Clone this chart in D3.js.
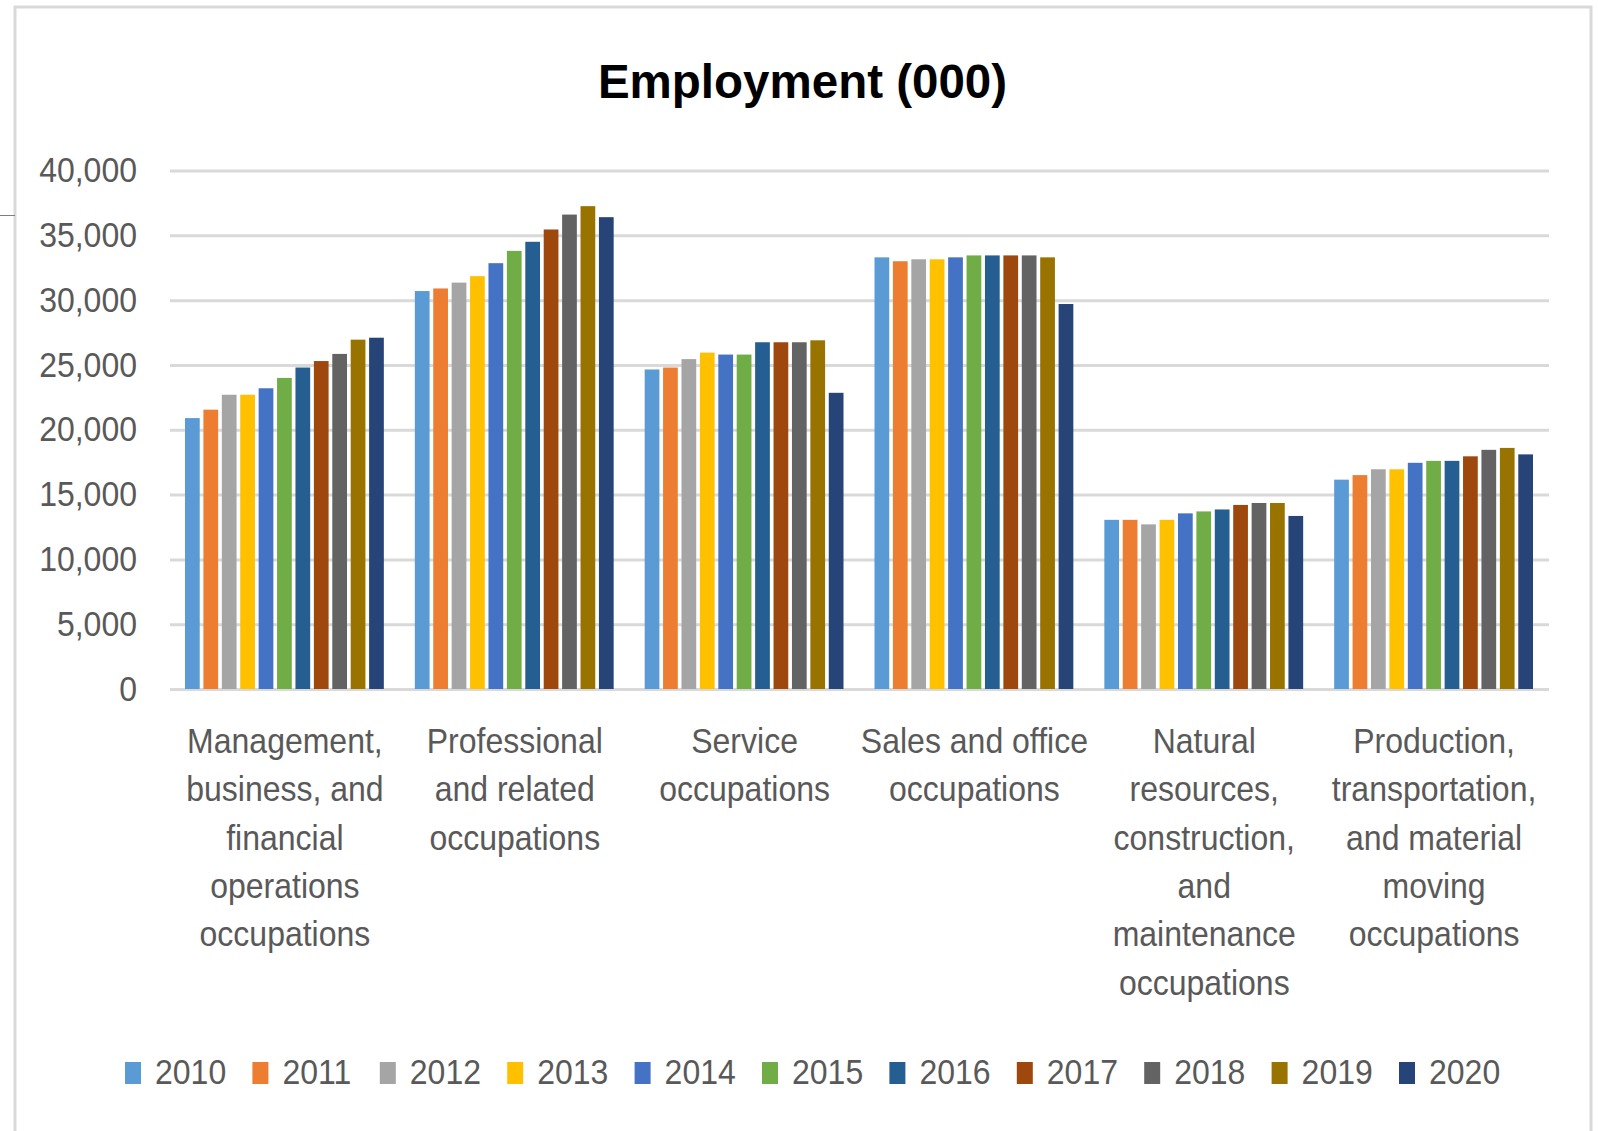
<!DOCTYPE html>
<html lang="en">
    <head>
        <meta charset="UTF-8" />
        <title>Employment (000)</title>
        <style>
            body {
                margin: 0;
                background: #fff;
            }
            text {
                font-family: 'Liberation Sans', Arial, sans-serif;
                fill: #595959;
            }
            .grid line {
                stroke: #d9d9d9;
                stroke-width: 3px;
            }
        </style>
    </head>
    <body>
        <svg width="1598" height="1131"></svg>
        <script src="https://d3js.org/d3.v7.min.js"></script>
        <script>
            const years = ['2010', '2011', '2012', '2013', '2014', '2015', '2016', '2017', '2018', '2019', '2020'];
            const yTicks = [0, 5000, 10000, 15000, 20000, 25000, 30000, 35000, 40000];

            // category labels, one entry per line as they wrap under the axis
            const categoryLines = [
                ['Management,', 'business, and', 'financial', 'operations', 'occupations'],
                ['Professional', 'and related', 'occupations'],
                ['Service', 'occupations'],
                ['Sales and office', 'occupations'],
                ['Natural', 'resources,', 'construction,', 'and', 'maintenance', 'occupations'],
                ['Production,', 'transportation,', 'and material', 'moving', 'occupations'],
            ];
            const categories = categoryLines.map((l) => l.join(' '));

            // values per category, 2010..2020 (thousands)
            const management = [20900, 21550, 22700, 22700, 23200, 24000, 24800, 25300, 25850, 26950, 27100];
            const professional = [30700, 30900, 31350, 31850, 32850, 33800, 34500, 35450, 36600, 37250, 36400];
            const service = [24650, 24800, 25450, 25950, 25800, 25800, 26750, 26750, 26750, 26900, 22850];
            const salesOffice = [33300, 33000, 33150, 33150, 33300, 33450, 33450, 33450, 33450, 33300, 29700];
            const naturalRes = [13050, 13050, 12700, 13050, 13550, 13700, 13850, 14200, 14350, 14350, 13350];
            const production = [16150, 16500, 16950, 16950, 17450, 17600, 17600, 17950, 18450, 18600, 18100];

            const colors = ['#5b9bd5', '#ed7d31', '#a5a5a5', '#ffc000', '#4472c4', '#70ad47', '#255e91', '#9e480e', '#636363', '#997300', '#264478'];

            const seriesByCategory = [management, professional, service, salesOffice, naturalRes, production];

            const svg = d3.select('svg');
            const stretch = 1.08; // reference text is a bit taller than normal

            const plotLeft = 170,
                plotRight = 1549,
                plotTop = 170.5,
                plotBottom = 689;

            // frame
            svg.append('rect')
                .attr('x', 15)
                .attr('y', 7)
                .attr('width', 1576)
                .attr('height', 1160)
                .attr('fill', 'none')
                .attr('stroke', '#d9d9d9')
                .attr('stroke-width', 3);
            svg.append('line').attr('x1', 0).attr('x2', 15).attr('y1', 215.5).attr('y2', 215.5).attr('stroke', '#7f7f7f').attr('stroke-width', 1);

            const x0 = d3.scaleBand().domain(categories).range([plotLeft, plotRight]).padding(0);
            const x1 = d3
                .scaleBand()
                .domain(years)
                .range([15, x0.bandwidth() - 16])
                .paddingInner(0.2);
            const y = d3.scaleLinear().domain([0, 40000]).range([plotBottom, plotTop]);
            const color = d3.scaleOrdinal().domain(years).range(colors);

            // gridlines
            svg.append('g')
                .attr('class', 'grid')
                .attr('transform', `translate(${plotLeft},0)`)
                .call(
                    d3
                        .axisLeft(y)
                        .tickValues(yTicks)
                        .tickSize(-(plotRight - plotLeft))
                        .tickFormat('')
                )
                .call((g) => g.select('.domain').remove());

            // y axis labels
            const yAxis = svg
                .append('g')
                .attr('transform', `translate(${plotLeft},0)`)
                .call(d3.axisLeft(y).tickValues(yTicks).tickSize(0).tickPadding(33).tickFormat(d3.format(',')));
            yAxis.select('.domain').remove();
            yAxis.selectAll('text')
                .style('font-size', '32px')
                .style('font-family', "'Liberation Sans', Arial, sans-serif")
                .attr('fill', '#595959')
                .attr('transform', `scale(1,${stretch})`);

            // bars
            const groups = svg
                .append('g')
                .selectAll('g')
                .data(categories)
                .join('g')
                .attr('transform', (d) => `translate(${x0(d)},0)`);

            groups
                .selectAll('rect')
                .data((d, i) => years.map((yr, j) => ({ year: yr, value: seriesByCategory[i][j] })))
                .join('rect')
                .attr('x', (d) => x1(d.year))
                .attr('width', x1.bandwidth())
                .attr('y', (d) => y(d.value))
                .attr('height', (d) => y(0) - y(d.value))
                .attr('fill', (d) => color(d.year));

            // category labels
            categoryLines.forEach((lines, i) => {
                const cx = x0(categories[i]) + x0.bandwidth() / 2;
                lines.forEach((line, k) => {
                    svg.append('text')
                        .attr('transform', `translate(${cx},${753 + k * 48.3}) scale(1,${stretch})`)
                        .attr('text-anchor', 'middle')
                        .style('font-size', '32px')
                        .text(line);
                });
            });

            // title
            svg.append('text')
                .attr('x', 802.5)
                .attr('y', 98)
                .attr('text-anchor', 'middle')
                .style('font-size', '47.5px')
                .style('font-weight', 'bold')
                .style('fill', '#000')
                .text('Employment (000)');

            // legend
            const legend = svg
                .append('g')
                .selectAll('g')
                .data(years)
                .join('g')
                .attr('transform', (d, i) => `translate(${125 + i * 127.4},0)`);

            legend
                .append('rect')
                .attr('y', 1062)
                .attr('width', 16)
                .attr('height', 22)
                .attr('fill', (d) => color(d));

            legend
                .append('text')
                .attr('transform', `translate(30,1084) scale(1,${stretch})`)
                .style('font-size', '32px')
                .text((d) => d);
        </script>
    </body>
</html>
